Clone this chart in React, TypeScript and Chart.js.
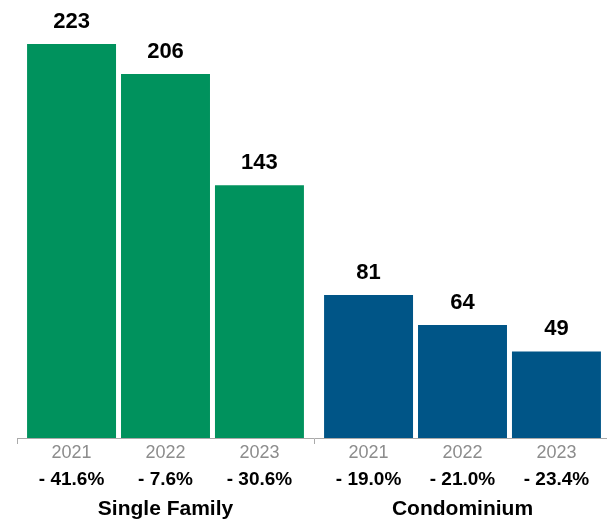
import React, { useEffect, useRef } from "react";
import { Chart, registerables } from "chart.js";

Chart.register(...registerables);

const categories = ["Single Family", "Condominium"];
const years = ["2021", "2022", "2023"];
const singleFamily = [223, 206, 143];
const condominium = [81, 64, 49];
const singleFamilyChange = ["- 41.6%", "- 7.6%", "- 30.6%"];
const condominiumChange = ["- 19.0%", "- 21.0%", "- 23.4%"];

const GREEN = "#00925D";
const BLUE = "#005587";
const FONT = '"Liberation Sans", Arial, Helvetica, sans-serif';

const labelPlugin = {
  id: "labelPlugin",
  afterDraw(chart: any) {
    const ctx = chart.ctx;
    const changes = [singleFamilyChange, condominiumChange];
    ctx.save();
    ctx.textAlign = "center";
    ctx.textBaseline = "alphabetic";
    chart.data.datasets.forEach((ds: any, di: number) => {
      const meta = chart.getDatasetMeta(di);
      meta.data.forEach((bar: any, ci: number) => {
        const x = bar.x;
        ctx.fillStyle = "#000";
        ctx.font = `bold 22px ${FONT}`;
        ctx.fillText(String(ds.data[ci]), x, bar.y - 16);
        ctx.fillStyle = "#8c8c8c";
        ctx.font = `18px ${FONT}`;
        ctx.fillText(years[di], x, 458);
        ctx.fillStyle = "#000";
        ctx.font = `bold 19px ${FONT}`;
        ctx.fillText(changes[ci][di], x, 485);
      });
    });
    const xScale = chart.scales.x;
    ctx.fillStyle = "#000";
    ctx.font = `bold 21px ${FONT}`;
    categories.forEach((c, i) => {
      ctx.fillText(c, xScale.getPixelForValue(i), 515);
    });
    ctx.restore();
  },
};

export default function App() {
  const ref = useRef<HTMLCanvasElement | null>(null);
  useEffect(() => {
    if (!ref.current) return;
    const chart = new Chart(ref.current, {
      type: "bar",
      data: {
        labels: categories,
        datasets: years.map((y, i) => ({
          label: y,
          data: [singleFamily[i], condominium[i]],
          backgroundColor: [GREEN, BLUE],
          borderWidth: 0,
          barPercentage: 0.947,
          categoryPercentage: 0.949,
        })),
      },
      options: {
        animation: false,
        responsive: false,
        devicePixelRatio: 1,
        layout: { padding: { top: 14, left: 17, right: 9, bottom: 0 } },
        plugins: { legend: { display: false }, tooltip: { enabled: false } },
        scales: {
          x: {
            ticks: { display: false },
            grid: {
              display: true,
              drawOnChartArea: false,
              drawTicks: true,
              tickLength: 6,
              color: "#aaaaaa",
              offset: true,
            },
            border: { display: true, color: "#aaaaaa", width: 1 },
            afterFit: (scale: any) => {
              scale.height = 86;
            },
          },
          y: {
            display: false,
            min: 0,
            max: 240,
          },
        },
      },
      plugins: [labelPlugin],
    });
    return () => chart.destroy();
  }, []);
  return (
    <div
      style={{
        position: "fixed",
        top: 0,
        left: 0,
        width: 607,
        height: 524,
        overflow: "hidden",
        background: "#fff",
      }}
    >
      <canvas
        ref={ref}
        width={620}
        height={524}
        style={{ width: 620, height: 524, display: "block" }}
      />
    </div>
  );
}
